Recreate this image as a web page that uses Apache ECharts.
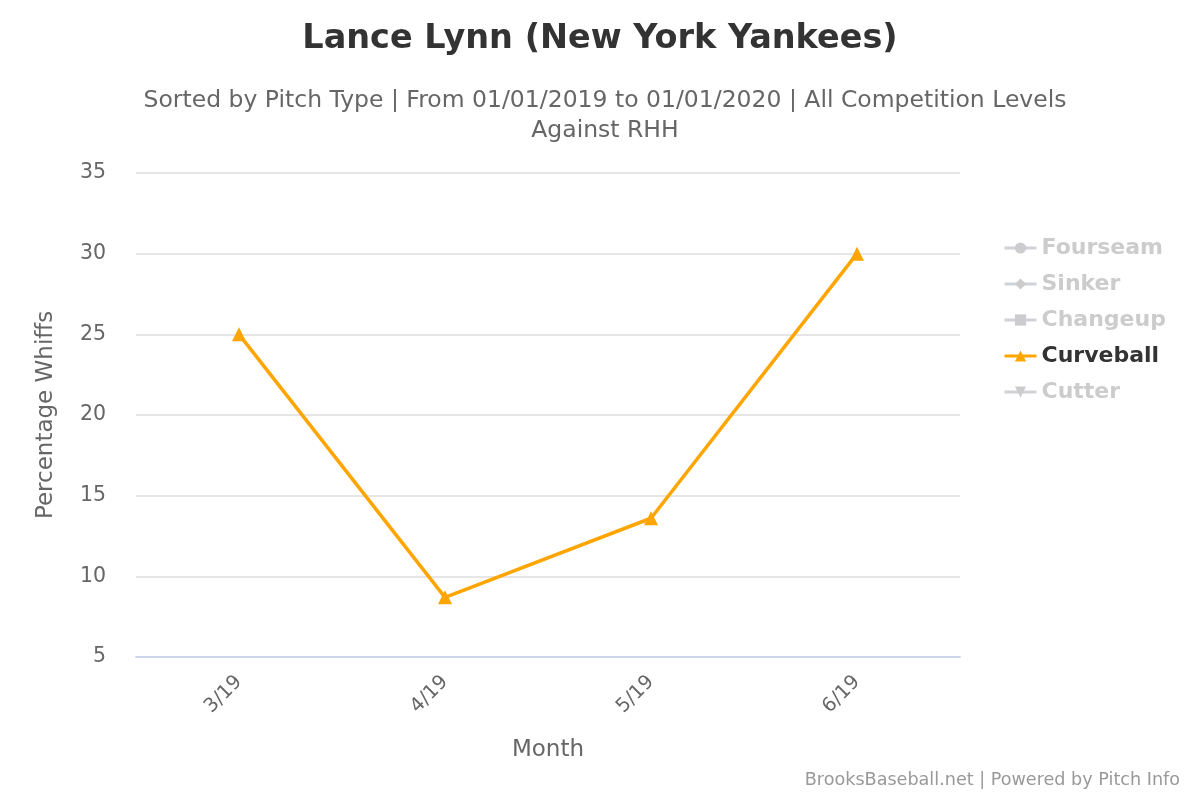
<!DOCTYPE html>
<html><head><meta charset="utf-8">
<script src="https://cdn.jsdelivr.net/npm/echarts@6/dist/echarts.min.js"></script>
<style>html,body{margin:0;padding:0;background:#fff}#c{width:1200px;height:800px}</style>
</head><body><div id="c"></div>
<script>
const categories = ['3/19', '4/19', '5/19', '6/19'];
const fourseam = [];
const sinker = [];
const changeup = [];
const curveball = [25, 8.7, 13.6, 30];
const cutter = [];
const yTicks = { min: 5, max: 35, interval: 5 };

const font = 'DejaVu Sans';
const chart = echarts.init(document.getElementById('c'));
const mk = (name, data, symbol, color) => ({
  name, type: 'line', data, symbol, symbolSize: 14,
  lineStyle: { width: 3.5, color }, itemStyle: { color },
  showAllSymbol: true
});
chart.setOption({
  animation: false,
  textStyle: { fontFamily: font },
  title: [{
    text: 'Lance Lynn (New York Yankees)',
    left: 'center', top: 17,
    textStyle: { fontFamily: font, fontSize: 33.5, fontWeight: 'bold', color: '#333' }
  }, {
    text: 'Sorted by Pitch Type | From 01/01/2019 to 01/01/2020 | All Competition Levels\nAgainst RHH',
    left: 600, top: 81, textAlign: 'center',
    textStyle: { fontFamily: font, fontSize: 23.5, color: '#666', lineHeight: 30, fontWeight: 'normal', align: 'center' }
  }, {
    text: 'BrooksBaseball.net | Powered by Pitch Info',
    right: 15, bottom: 6,
    textStyle: { fontFamily: font, fontSize: 17.6, color: '#999', fontWeight: 'normal' }
  }],
  grid: { left: 136, right: 240, top: 173, bottom: 143 },
  legend: {
    orient: 'vertical', left: 998, top: 232, itemGap: 14,
    itemWidth: 32, itemHeight: 14,
    lineStyle: { width: 3, inactiveWidth: 3 },
    selected: { Fourseam: false, Sinker: false, Changeup: false, Curveball: true, Cutter: false },
    inactiveColor: '#cccccc',
    textStyle: { fontFamily: font, fontSize: 22, fontWeight: 'bold', color: '#333' },
    data: ['Fourseam', 'Sinker', 'Changeup', 'Curveball', 'Cutter']
  },
  xAxis: {
    type: 'category', data: categories, boundaryGap: true,
    name: 'Month', nameLocation: 'middle', nameGap: 82,
    nameTextStyle: { fontFamily: font, fontSize: 23, color: '#666' },
    axisLine: { lineStyle: { color: '#ccd6eb', width: 2 } },
    axisTick: { show: false },
    axisLabel: { rotate: 45, fontFamily: font, fontSize: 19.5, color: '#666', margin: 22 }
  },
  yAxis: {
    type: 'value', min: yTicks.min, max: yTicks.max, interval: yTicks.interval,
    name: 'Percentage Whiffs', nameLocation: 'middle', nameGap: 78,
    nameTextStyle: { fontFamily: font, fontSize: 23, color: '#666' },
    axisLine: { show: false }, axisTick: { show: false },
    axisLabel: { fontFamily: font, fontSize: 20.5, color: '#666', margin: 30 },
    splitLine: { lineStyle: { color: '#e6e6e6', width: 2 } }
  },
  series: [
    mk('Fourseam', fourseam, 'circle', '#7cb5ec'),
    mk('Sinker', sinker, 'diamond', '#434348'),
    mk('Changeup', changeup, 'rect', '#90ed7d'),
    mk('Curveball', curveball, 'triangle', '#ffa500'),
    mk('Cutter', cutter, 'path://M0,0 L10,0 L5,10 Z', '#8085e9')
  ]
});
</script></body></html>
